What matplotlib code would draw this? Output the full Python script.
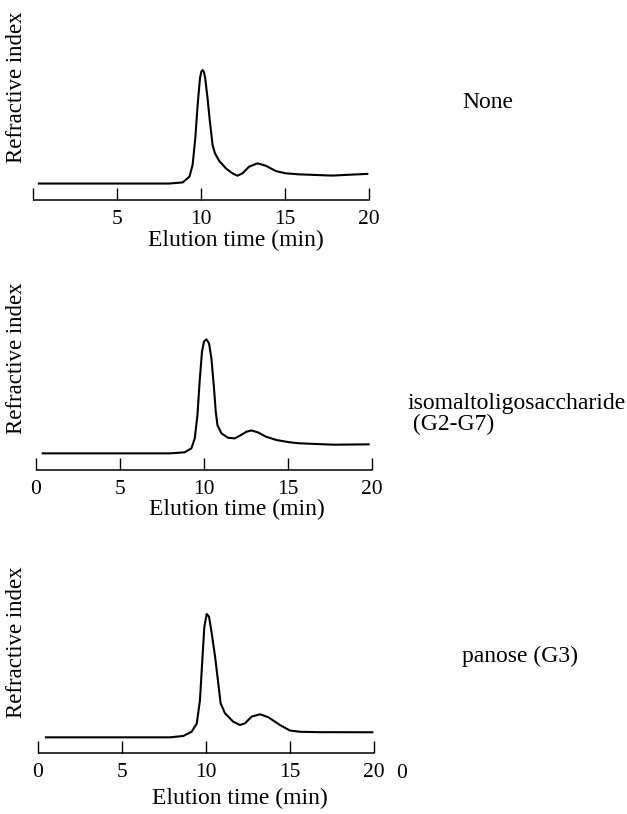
import numpy as np
import matplotlib
matplotlib.use("Agg")
import matplotlib.pyplot as plt

plt.rcParams['font.family'] = ['Liberation Serif', 'DejaVu Serif']

# elution traces (time in min, signal in arbitrary units, baseline = 0)
t_none = [0.35, 8.12, 8.91, 9.31, 9.5, 9.66, 9.8, 9.94, 10.02, 10.1, 10.18, 10.25, 10.39,
          10.53, 10.69, 10.83, 11.09, 11.48, 11.87, 12.17, 12.47, 12.86, 13.36, 13.86,
          14.45, 15.04, 15.83, 17.8, 19.9]
s_none = [0, 0, 1, 6, 16.3, 39.8, 69.2, 92.8, 98.5, 100, 98, 92.8, 75.1,
          54.5, 33.9, 26.6, 19.8, 13.4, 9, 6.9, 9, 14.8, 17.8, 15.7,
          11, 9, 8.1, 7, 8.5]

t_iso = [0.4, 7.96, 8.85, 9.25, 9.45, 9.61, 9.74, 9.88, 10.0, 10.14, 10.3, 10.44,
         10.58, 10.7, 10.8, 11.04, 11.43, 11.83, 12.12, 12.52, 12.82, 13.21, 13.71,
         14.31, 15.1, 15.7, 17.7, 19.8]
s_iso = [0, 0, 0.9, 4.4, 13.2, 33.6, 62.9, 89.2, 98, 100, 96.5, 83.3,
         59.9, 36.5, 24.8, 17.5, 13.7, 13.1, 15.4, 18.9, 20.1, 18.4, 14.5,
         11.7, 9.7, 8.8, 7.6, 7.9]

t_pan = [0.47, 7.86, 8.65, 9.15, 9.45, 9.64, 9.78, 9.9, 10.04, 10.18, 10.34, 10.54,
         10.73, 10.87, 11.13, 11.62, 12.02, 12.32, 12.72, 13.21, 13.71, 14.4, 15.0,
         15.6, 16.6, 19.9]
s_pan = [0, 0, 1.1, 4.6, 11.2, 30.1, 62.5, 89.5, 100, 97.8, 84.3, 65.4,
         43.8, 27.6, 19.5, 12.7, 10, 11.4, 16.8, 18.7, 16.3, 10, 5.5,
         4.5, 4.2, 4.1]

samples = ["None", "isomaltoligosaccharide\n (G2-G7)", "panose (G3)"]
xticks = [0, 5, 10, 15, 20]
xtick_labels = [["", "5", "10", "15", "20"],
                ["0", "5", "10", "15", "20"],
                ["0", "5", "10", "15", "20"]]

W, H = 627, 814
fig = plt.figure(figsize=(W / 100, H / 100), dpi=100)

# panel geometry in pixels: x of t=0, x of t=20, axis line y, top y, ylim, xlabel centre, side label y
panels = [
    (33, 369, 200, 60, -14.5, 108.8, 236, 240, 103),
    (36, 372, 470, 330, -14.6, 108.2, 237, 509, 414),
    (38, 374, 753, 603, -12.7, 108.9, 240, 798, 656),
]
traces = [(t_none, s_none), (t_iso, s_iso), (t_pan, s_pan)]
ylabel_y = [87, 358, 642]
fs = 17

for i, (x0, x20, ybot, ytop, lo, hi, xl_x, xl_y, lab_y) in enumerate(panels):
    ax = fig.add_axes([x0 / W, 1 - ybot / H, (x20 - x0) / W, (ybot - ytop) / H])
    t, s = traces[i]
    ax.plot(t, s, color='black', lw=1.5, solid_joinstyle='round')
    ax.set_xlim(0, 20)
    ax.set_ylim(lo, hi)
    for side in ['top', 'right', 'left']:
        ax.spines[side].set_visible(False)
    ax.spines['bottom'].set_linewidth(1.1)
    ax.spines['bottom'].set_capstyle('butt')
    ax.set_yticks([])
    ax.set_xticks(xticks)
    ax.set_xticklabels(xtick_labels[i])
    ax.tick_params(axis='x', direction='in', length=8.5, width=1.0, pad=7,
                   labelsize=15.5)
    ax.patch.set_alpha(0)
    ax.set_xlabel("Elution time (min)", fontsize=fs, va='center')
    ax.xaxis.set_label_coords((xl_x - x0) / (x20 - x0), -(xl_y - ybot) / (ybot - ytop))
    fig.text(17 / W, 1 - ylabel_y[i] / H, "Refractive index", rotation=90,
             ha='center', va='center', fontsize=16.5)
    if i == 1:
        fig.text(407 / W, 1 - lab_y / H, samples[i], ha='left', va='center',
                 fontsize=fs, linespacing=0.95)
    else:
        fig.text(462 / W, 1 - lab_y / H, samples[i], ha='left', va='center', fontsize=fs)

# stray tick digit next to the bottom panel
fig.text(402 / W, 1 - 773 / H, "0", ha='center', va='center', fontsize=15.5)

fig.savefig("out.png", dpi=100)
